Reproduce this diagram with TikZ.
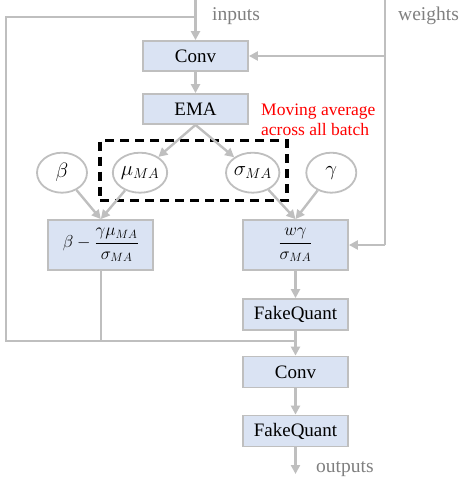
\documentclass[tikz,border=0pt]{standalone}
\usepackage{fontspec}
\setmainfont{Liberation Serif}
\usetikzlibrary{arrows.meta,shapes.geometric}
\definecolor{boxfill}{HTML}{DAE3F3}
\definecolor{edge}{HTML}{BFBFBF}
\definecolor{labelgray}{HTML}{7F7F7F}
\tikzset{
  conn/.style={draw=edge, line width=2.4pt},
  arr/.style={conn, -{Triangle[length=9pt,width=9pt]}},
  opbox/.style={draw=edge, line width=1.8pt, fill=boxfill, minimum width=105pt, minimum height=30pt, inner sep=0pt,
    font=\fontsize{19}{22}\selectfont},
  mathbox/.style={opbox, minimum height=50pt, font=\fontsize{18.5}{22}\selectfont},
  var/.style={ellipse, draw=edge, line width=1.8pt, fill=white, minimum width=50pt, minimum height=40pt, inner sep=0pt,
    font=\fontsize{21}{24}\selectfont},
  iolabel/.style={text=labelgray, font=\fontsize{19.5}{22}\selectfont, inner sep=0pt, anchor=base west},
  note/.style={text=red, font=\fontsize{17.5}{20}\selectfont, inner sep=0pt, anchor=base west},
}
\begin{document}
\begin{tikzpicture}[x=1pt, y=-1pt]
\useasboundingbox (0,0) rectangle (463,479);

% operators
\node[opbox] (conv1) at (195.5,56) {Conv};
\node[opbox] (ema) at (195.5,109) {EMA};
\node[mathbox] (b1) at (100.8,245) {$\displaystyle\beta-\frac{\gamma\mu_{MA}}{\sigma_{MA}}$};
\node[mathbox] (b2) at (295.5,245) {$\displaystyle\frac{w\gamma}{\sigma_{MA}}$};
\node[opbox, minimum height=31pt] (fq1) at (295.5,314.5) {FakeQuant};
\node[opbox, minimum height=31pt] (conv2) at (295.5,372) {Conv};
\node[opbox, minimum height=31pt] (fq2) at (295.5,431) {FakeQuant};

% statistics and parameters
\node[var] (beta) at (62,172.7) {$\beta$};
\node[var] (mu) at (140,172.7) {$\mu_{MA}$};
\node[var] (sigma) at (252.7,172.7) {$\sigma_{MA}$};
\node[var] (gamma) at (331.3,172.7) {$\gamma$};

% batch statistics group
\node[draw=black, line width=3.2pt, dash pattern=on 9pt off 6pt, minimum width=187pt, minimum height=60pt, inner sep=0pt] (group) at (193.5,170.7) {};

% routing points
\coordinate (intop) at (195.5,0);
\coordinate (branch) at (195.5,17);
\coordinate (lt) at (6,17);
\coordinate (lb) at (6,340.7);
\coordinate (join) at (295.5,340.7);
\coordinate (wtop) at (385,0);
\coordinate (wbot) at (385,245);
\coordinate (out) at (295.5,474);

% connectors
\draw[arr] (intop) -- (conv1.north);
\draw[conn] (branch) -- (lt) -- (lb) -- (join);
\draw[conn] (b1.south) -- (b1.south |- join);
\draw[conn] (wtop) -- (wbot);
\draw[arr] (conv1.east -| wtop) -- (conv1.east);
\draw[arr] (wbot) -- (b2.east);
\draw[arr] (conv1) -- (ema);
\draw[arr] (ema.south) -- (mu);
\draw[arr] (ema.south) -- (sigma);
\draw[arr] (beta) -- (b1.north);
\draw[arr] (mu) -- (b1.north);
\draw[arr] (sigma) -- (b2.north);
\draw[arr] (gamma) -- (b2.north);
\draw[arr] (b2) -- (fq1);
\draw[arr] (fq1) -- (conv2);
\draw[arr] (conv2) -- (fq2);
\draw[arr] (fq2) -- (out);

% labels
\node[iolabel] (lin) at (212,20) {inputs};
\node[iolabel] (lw) at (398,20) {weights};
\node[iolabel] (lout) at (316,472) {outputs};
\node[note] (n1) at (261,115) {Moving average};
\node[note] (n2) at (261,135) {across all batch};
\end{tikzpicture}
\end{document}
